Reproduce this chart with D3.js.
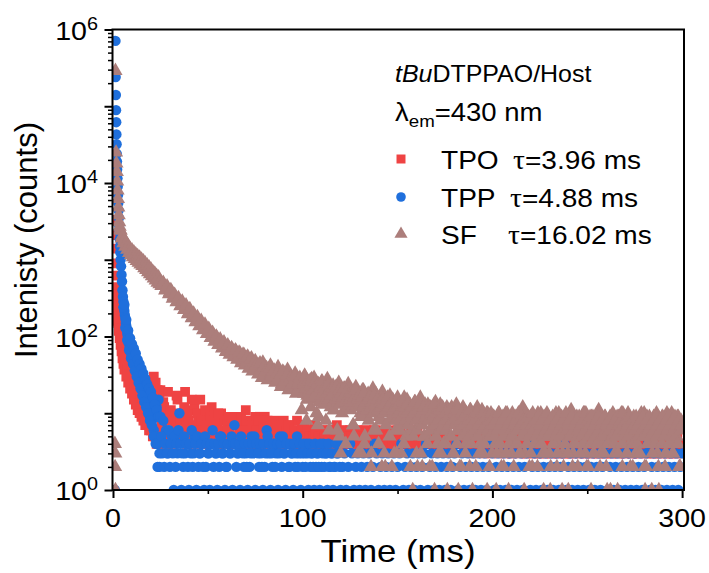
<!DOCTYPE html>
<html>
<head>
<meta charset="utf-8">
<script src="https://cdn.jsdelivr.net/npm/d3@7/dist/d3.min.js"></script>
<style>
body { margin: 0; background: #fff; }
text { font-family: "Liberation Sans", Arial, sans-serif; fill: #000; }
</style>
</head>
<body>
<svg id="chart" width="709" height="573"></svg>
<script>
// series names, lifetimes, ticks
var seriesNames = ["TPO", "TPP", "SF"];
var lifetimes = ["3.96", "4.88", "16.02"];
var xTicks = [0, 100, 200, 300];
var xMinorTicks = [50, 150, 250];
var yLabelExps = [0, 2, 4, 6];

// early part of each decay: [time (ms), counts]
var tpoEarly = [[0.25,3300],[0.5,2100],[0.75,1400],[1.0,900],[1.25,620],[1.5,440],[1.75,330],[2.0,250],[2.25,210],[2.5,160],[2.75,150],[3.0,118],[3.25,128],[3.5,95],[3.75,105],[4.0,78],[4.25,90],[4.5,64],[4.75,75],[5.0,52],[5.25,62],[5.5,44],[5.75,54],[6.0,37],[6.5,45],[7.0,30],[7.5,38],[8.0,25],[8.5,32],[9.0,21],[9.5,28],[10.0,18],[10.5,25],[11.0,15],[11.5,22],[12.0,13],[12.5,20],[13.0,11],[13.5,18],[14.0,10],[14.5,17],[15.0,9],[15.5,16],[16.0,8],[16.5,15],[17.0,7],[17.5,14],[18.0,7],[18.5,16],[19.0,6],[19.5,18],[20.0,6],[20.5,22],[21.0,5],[21.5,30],[22.0,5],[22.5,25],[23.0,4],[23.5,20],[24.0,4],[24.5,18]];

var tppEarly = [[1.0,1],[1.3,710000],[1.4,240000],[1.5,140000],[1.6,89000],[1.7,62000],[1.8,43000],[1.9,32000],[2.0,24000],[2.1,19000],[2.2,15000],[2.35,11500],[2.5,9000],[2.65,7000],[2.8,5500],[2.95,4400],[3.1,3500],[3.25,2800],[3.4,2300],[3.55,1850],[3.7,1500],[3.85,1250],[4.0,1000],[4.25,820],[4.5,640],[4.75,520],[5.0,400],[5.25,330],[5.5,285],[5.75,245],[6.0,215],[6.25,190],[6.5,170],[6.75,150],[7.0,138],[7.25,125],[7.5,112],[7.75,104],[8.0,100],[8.25,82],[8.5,94],[8.75,72],[9.0,84],[9.25,64],[9.5,76],[9.75,58],[10.0,70],[10.5,50],[11.0,62],[11.5,42],[12.0,52],[12.5,35],[13.0,45],[13.5,30],[14.0,40],[14.5,25],[15.0,34],[15.5,21],[16.0,30],[16.5,17],[17.0,26],[17.5,14],[18.0,23],[18.5,11],[19.0,20],[19.5,9],[20.0,17],[20.5,8],[21.0,15],[21.5,6],[22.0,14],[22.5,5],[23.0,12],[23.5,2],[24.0,15],[24.5,2],
  [5.5,240],[6.0,260],[6.5,130],[7.0,165],[7.5,90],[8.0,120],[8.5,66],[9.0,95],[9.5,52],[10.0,80],[10.5,44],[11.0,70],[11.5,36],[12.0,60],[12.5,30],[13.0,50],[13.5,25],[14.0,44],[14.5,21],[15.0,38],[15.5,17],[16.0,33],[16.5,14],[17.0,28],[17.5,12],[18.0,24],[18.5,10],[19.0,21],[19.5,8],[20.0,19],[20.5,7],[21.0,16],[21.5,5],[22.0,13],[22.5,4],[23.0,11],[23.5,4],[24.0,9],[24.5,3]];

var sfEarly = [[1.0,4],[1.1,2],[1.2,3],[1.3,1],[1.3,290000],[1.6,25000],[1.8,18000],[2.0,14000],[2.2,10500],[2.4,8000],[2.6,6200],[2.8,4800],[3.0,3800],[3.25,3100],[3.5,2700],[3.75,2450],[4.0,2400],[4.5,1900],[5.0,2050],[5.5,1650],[6.0,1820],[6.5,1480],[7.0,1650],[7.5,1350],[8.0,1520],[8.5,1230],[9.0,1400],[9.5,1150],[10.0,1330],[10.5,1080],[11.0,1250],[11.5,1030],[12.0,1180],[12.5,970],[13.0,1120],[13.5,920],[14.0,1070],[14.5,870],[15.0,1010],[15.5,830],[16.0,960],[16.5,780],[17.0,900],[17.5,740],[18.0,850],[18.5,690],[19.0,800],[19.5,650],[20.0,750],[20.5,610],[21.0,700],[21.5,570],[22.0,660],[22.5,540],[23.0,620],[23.5,505],[24.0,590],[24.5,480]];

// tails: counts per channel, channels start at 25 ms (1 ms apart) and the in-between channels
var tpoTail = [20,6,12,4,19,8,5,10,7,15, 5,9,6,19,4,8,11,6,13,5, 9,15,7,4,10,6,8,12,5,9,
  7,4,10,6,8,5,9,4,7,9, 5,8,6,4,7,11,5,8,4,6, 9,5,7,4,6,9,5,7,4,6,
  8,7,5,4,6,8,5,4,7,6, 4,5,8,6,4,5,7,4,6,5, 4,7,5,4,6,5,4,6,5,4,
  6,4,5,7,4,5,6,4,5,4, 6,5,4,5,6,4,5,4,6,5, 4,5,4,6,5,4,5,4,5,6,
  4,5,4,5,4,6,5,4,5,4, 5,4,6,4,5,4,5,4,5,4, 5,4,5,4,6,4,5,4,5,4,
  4,5,4,5,4,5,4,6,4,5, 4,5,4,4,5,4,5,4,4,5, 4,5,4,4,5,4,4,5,4,4,
  5,4,4,5,4,3,5,4,4,5, 4,4,5,3,4,5,4,4,3,5, 4,4,3,5,4,4,3,4,5,4,
  3,4,4,5,3,4,4,3,4,4, 5,3,4,4,3,4,4,5,3,4, 4,3,4,4,5,3,4,4,3,4,
  4,5,3,4,4,3,4,4,5,3, 4,4,3,4,4,5,3,4,4,3, 4,4,3,5,4,4,3,4,4,3,
  4,5,3,4,4,3];
var tpoTailHalf = [7,14,5,9,6,11,4,8,17,6, 8,5,12,7,9,5,15,7,4,10, 6,8,5,11,7,4,9,6,8,5,
  10,6,4,8,5,7,6,9,5,4, 7,6,9,5,4,8,6,5,7,4, 6,8,4,5,7,5,8,4,6,5,
  4,6,5,7,4,5,6,7,4,5, 6,4,5,4,7,5,4,6,5,4, 5,6,4,5,4,6,5,4,5,6,
  4,5,6,4,5,4,6,5,4,5, 5,4,5,6,4,5,4,5,6,4, 5,4,6,5,4,5,4,6,4,5,
  4,6,4,5,4,5,6,4,5,4, 5,4,5,4,5,6,4,5,4,4, 5,4,4,5,4,5,4,4,5,4,
  4,5,4,5,4,4,5,4,4,5, 4,4,5,4,3,5,4,4,5,4, 3,5,4,4,3,4,5,4,3,4,
  4,3,5,4,4,3,4,4,5,3, 4,4,3,4,5,4,3,4,4,3, 5,4,3,4,4,5,3,4,4,3,
  4,5,3,4,4,3,4,5,4,3, 4,4,5,3,4,4,3,4,5,4, 3,4,4,3,5,4,4,3,4,4,
  5,3,4,4,3,4,5,4,3,4, 4,3,4,5,4,4,3,4,4,5, 3,4,4,3,4,5,4,3,4,4,
  3,4,5,4,4];

var tppTail = [9,3,2,6,3,2,5,1,2,3, 10,1,2,3,4,1,3,2,5,1, 2,3,4,1,2,3,1,4,2,3,
  1,2,5,3,1,2,4,3,1,7, 2,3,1,4,2,3,1,2,5,3, 1,4,2,3,1,2,6,3,1,2,
  4,3,1,5,2,3,1,4,2,3, 1,2,5,3,1,2,3,4,1,2, 3,1,2,3,1,2,4,3,1,2,
  3,1,2,3,4,1,2,3,1,2, 4,3,1,2,3,1,2,3,1,2, 3,1,2,4,3,1,2,3,1,2,
  3,1,2,3,1,2,3,4,1,2, 3,1,2,3,1,2,3,1,2,3, 4,1,2,3,1,2,3,1,2,3,
  1,2,3,1,2,3,4,1,2,3, 1,2,3,1,2,3,1,2,3,1, 2,3,1,2,4,3,1,2,3,1,
  2,3,1,2,3,1,2,3,1,2, 3,1,2,3,4,1,2,3,1,2, 3,1,2,3,1,2,3,1,2,3,
  1,2,3,4,1,2,3,1,2,3, 1,2,3,1,2,3,1,2,3,1, 2,3,1,2,3,4,1,2,3,1,
  2,3,1,2,3,1,2,3,1,2, 3,1,2,3,1,2,3,4,1,2, 3,1,2,3,1,2,3,1,2,3,
  1,2,3,1,2,3];
var tppTailHalf = [5,8,4,3,6,4,3,5,4,6, 4,3,5,4,2,4,6,3,4,5, 3,4,2,5,4,3,4,6,4,3,
  4,5,3,4,2,4,3,5,4,4, 3,4,5,3,4,2,4,3,4,5, 4,3,4,2,4,3,5,4,3,4,
  2,4,3,4,5,3,4,2,4,3, 4,3,2,4,3,4,2,3,4,3, 2,4,3,2,4,3,2,3,4,2,
  3,2,4,3,2];

var sfTail = [530,478,470,425,420,378,376,335,326,292, 290,258,259,230,231,204,206,181,182,160,
  162,140,144,124,128,110,115,99,104,89, 94,80,85,73,78,66,72,61,67,57,
  64,52,60,49,58,46,55,43,52,40, 48,38,43,36,46,33,39,31,42,29,
  36,27,40,30,24,34,28,37,23,30, 26,33,21,28,25,19,31,8,18,27,
  22,29,17,7,20,26,16,22,28,6, 15,23,20,13,25,3,14,21,17,24,
  12,19,5,22,13,18,3,20,15,9, 17,2,21,10,16,4,8,19,3,15,
  10,17,2,13,6,16,9,3,14,12, 15,8,11,1,14,3,7,16,2,5,
  9,13,2,11,6,14,4,10,3,8, 7,12,5,2,10,8,13,1,9,6,
  11,4,8,2,10,5,7,12,3,9, 3,9,10,7,5,8,6,1,9,4,
  7,2,10,6,8,3,5,9,4,7, 6,12,3,8,5,9,2,7,4,10,
  5,8,1,6,9,3,7,4,8,2, 10,6,3,8,5,1,7,9,4,6,
  2,8,5,10,3,7,6,1,9,4, 7,11,3,6,8,2,5,9,4,7,
  6,1,8,10,4,7,3,9,5,2, 8,6,3,9,5,10,2,7,4,1,
  9,6,3,8,5,7,2,10,4,6, 3,8,5,9,2,7];
var sfTailHalf = [455,500,400,452,356,405,312,350,280,318, 248,285,222,255,196,228,174,200,154,180,
  136,160,121,143,108,126,96,112,86,100, 78,92,70,84,63,77,58,71,54,66,
  50,62,45,58,42,53,38,50,35,46, 42,32,45,29,40,35,27,38,30,35,
  25,33,29,22,35,26,31,20,28,24, 30,18,24,29,11,22,26,17,23,20,
  25,15,21,9,24,18,13,20,23,16, 19,11,22,16,5,20,14,18,12,21,
  16,7,19,13,17,10,20,4,14,18, 11,15,6,18,13,9,16,12,2,14,
  13,8,15,11,3,14,7,12,16,5, 10,13,6,12,9,2,14,11,8,13,
  5,10,12,7,1,11,9,13,6,10, 4,11,8,12,3,9,6,10,2,12,
  7,9,5,11,1,8,10,6,4,11, 8,5,10,2,7,9,4,6,10,3,
  9,5,8,1,6,10,4,7,9,3, 8,5,10,6,2,9,7,4,8,6,
  10,3,7,9,5,1,8,6,10,4, 7,9,2,6,8,5,11,3,7,9,
  5,8,4,10,6,2,9,7,3,8, 6,10,4,7,9,1,5,8,10,3,
  7,9,5,2,8,6,10,4,7,9, 3,8,6,10,5,1,9,7,4,8,
  6,10,2,7,9,5,3,8,6,10, 4,7,9,2,8];
// SF quarter channels from 100.25 ms, 0.5 ms apart
var sfTailQuarter = [24,18,30,21,15,26,19,23,12,28, 20,16,25,22,10,19,24,14,21,17,
  26,13,19,22,8,18,23,15,20,12, 17,21,11,19,15,22,6,16,20,13,
  18,10,16,21,14,4,19,12,17,15, 11,18,14,7,16,20,12,15,3,17,
  13,9,16,12,18,5,14,11,15,8, 16,12,3,14,10,17,13,6,15,11,
  9,14,12,2,15,10,13,7,11,16, 12,5,13,9,14,11,3,12,8,15,
  10,13,6,11,9,14,4,12,8,10, 13,7,11,2,9,12,5,10,14,8,
  6,11,9,13,3,10,7,12,5,9, 11,4,8,12,6,10,2,9,13,7,
  5,10,8,3,11,6,9,12,4,8, 10,6,1,9,7,11,5,8,3,10,
  7,9,4,11,6,2,8,10,5,7, 9,3,10,6,8,5,11,4,7,9,
  6,8,2,10,5,7,9,3,8,6, 10,4,7,9,1,6,8,5,10,3,
  7,9,5,8,3,6,10,4,7,2, 8,5,9,6,3,10,7,4,8,6,
  5,9,2,7,8,4,6,10,3,7, 9,5,8,1,6,7,4,9,5,8,
  3,7,10,6,4,8,5,2,9,6, 7,4,8,5,9,3,6,10,5,7,
  8,2,6,9,4,7,5,8,3,6, 9,5,7,1,8,6,4,10,6,3,
  7,8,5,9,2,6,7,4,8,5, 6,9,3,7,5,8,4,6,10,2,
  8,5,7,4,9,6,3,7,5,8, 4,9,6,2,7,8,5,3,9,6,
  7,4,8,6,1,9,5,7,4,8, 5,9,3,7,6,8,4,10,5,6,
  8,3,7,5,9,2,6,8,4,7, 6,9,4,7,5,3,8,6,9,5,
  2,7,8,4,6,9,5,7,3,8, 6,4,9,5,7,1,8,6,4,9,
  7,5,3,8,6,9,4,7,5,8, 3,6,9,5,7,4,8,2,6,7];

// [first time, spacing, counts]
var tpoBlocks = [[25, 1, tpoTail], [25.5, 1, tpoTailHalf]];
var tppBlocks = [[25, 1, tppTail], [25.5, 1, tppTailHalf]];
var sfBlocks = [[25, 1, sfTail], [25.5, 1, sfTailHalf], [100.25, 0.5, sfTailQuarter]];

function buildSeries(early, blocks) {
    var pts = early.slice();
    blocks.forEach(function(b) {
        for (var i = 0; i < b[2].length; i++) {
            pts.push([b[0] + i * b[1], b[2][i]]);
        }
    });
    return pts;
}

var series = [
    {name: seriesNames[0], tau: lifetimes[0], color: "#EF4343", shape: d3.symbolSquare, size: 95, data: buildSeries(tpoEarly, tpoBlocks)},
    {name: seriesNames[1], tau: lifetimes[1], color: "#1F6FDC", shape: d3.symbolCircle, size: 85, data: buildSeries(tppEarly, tppBlocks)},
    {name: seriesNames[2], tau: lifetimes[2], color: "#AC7E7B", shape: d3.symbolTriangle, size: 88, data: buildSeries(sfEarly, sfBlocks)}
];

var svg = d3.select("#chart");
var plot = {l: 112.5, r: 684, t: 29.5, b: 490};

var x = d3.scaleLinear().domain([0, 301]).range([113, 684]);
var y = d3.scaleLog().domain([1, 1e6]).range([plot.b, plot.t]);

svg.append("clipPath").attr("id", "clip")
    .append("rect")
    .attr("x", plot.l).attr("y", plot.t)
    .attr("width", plot.r - plot.l).attr("height", plot.b - plot.t);

var dataG = svg.append("g").attr("clip-path", "url(#clip)");

series.forEach(function(s) {
    var sym = d3.symbol().type(s.shape).size(s.size);
    dataG.append("g")
        .selectAll("path")
        .data(s.data)
        .enter()
        .append("path")
        .attr("d", sym)
        .attr("fill", s.color)
        .attr("transform", function(d) {
            return "translate(" + x(d[0]) + "," + y(d[1]) + ")";
        });
});

// frame
svg.append("rect")
    .attr("x", plot.l).attr("y", plot.t)
    .attr("width", plot.r - plot.l).attr("height", plot.b - plot.t)
    .attr("fill", "none").attr("stroke", "#000").attr("stroke-width", 2);

// x axis ticks
var xAxisG = svg.append("g").attr("transform", "translate(0," + plot.b + ")")
    .call(d3.axisBottom(x).tickValues(xTicks).tickSize(8).tickFormat(""));
var xMinorG = svg.append("g").attr("transform", "translate(0," + plot.b + ")")
    .call(d3.axisBottom(x).tickValues(xMinorTicks).tickSize(4).tickFormat(""));
xAxisG.select(".domain").remove();
xMinorG.select(".domain").remove();
xAxisG.selectAll("line").attr("stroke-width", 2);
xMinorG.selectAll("line").attr("stroke-width", 1.6);

// y axis ticks
var decades = d3.range(0, 7).map(function(e) { return Math.pow(10, e); });
var minors = [];
for (var e = 0; e < 6; e++) {
    for (var m = 2; m <= 9; m++) minors.push(m * Math.pow(10, e));
}
var yAxisG = svg.append("g").attr("transform", "translate(" + plot.l + ",0)")
    .call(d3.axisLeft(y).tickValues(decades).tickSize(8).tickFormat(""));
var yMinorG = svg.append("g").attr("transform", "translate(" + plot.l + ",0)")
    .call(d3.axisLeft(y).tickValues(minors).tickSize(4.5).tickFormat(""));
yAxisG.select(".domain").remove();
yMinorG.select(".domain").remove();
yAxisG.selectAll("line").attr("stroke-width", 2);
yMinorG.selectAll("line").attr("stroke-width", 1.5);

var sx = 1.1;   // the picture's text is a bit wider than Arial

// x tick labels
xTicks.forEach(function(v) {
    svg.append("text")
        .attr("transform", "translate(" + x(v) + ",527) scale(" + sx + ",1)")
        .attr("text-anchor", "middle")
        .style("font-size", "26px")
        .text(v);
});

// y tick labels 10^n
yLabelExps.forEach(function(n) {
    var t = svg.append("text")
        .attr("transform", "translate(98," + (y(Math.pow(10, n)) + 10) + ") scale(" + sx + ",1)")
        .attr("text-anchor", "end")
        .style("font-size", "26px");
    t.append("tspan").text("10");
    t.append("tspan").attr("dy", -10).style("font-size", "18px").text(n);
});

// axis titles
svg.append("text")
    .attr("transform", "translate(398,562) scale(1.12,1)")
    .attr("text-anchor", "middle")
    .style("font-size", "31px")
    .text("Time (ms)");

svg.append("text")
    .attr("transform", "translate(37,240) rotate(-90)")
    .attr("text-anchor", "middle")
    .style("font-size", "31px")
    .text("Intenisty (counts)");

// legend
var title = svg.append("text")
    .attr("transform", "translate(395,82) scale(1.04,1)")
    .style("font-size", "24px");
title.append("tspan").style("font-style", "italic").text("tBu");
title.append("tspan").text("DTPPAO/Host");

var lam = svg.append("text")
    .attr("transform", "translate(395,121) scale(" + sx + ",1)")
    .style("font-size", "25px");
lam.append("tspan").text("\u03bb");
lam.append("tspan").attr("dy", 6).style("font-size", "17px").text("em");
lam.append("tspan").attr("dy", -6).text("=430 nm");

var rowY = [159, 197, 234];
var tauX = [513, 510, 508];
series.forEach(function(s, i) {
    svg.append("path")
        .attr("d", d3.symbol().type(s.shape).size(s.size * 0.85)())
        .attr("fill", s.color)
        .attr("transform", "translate(401," + rowY[i] + ")");
    svg.append("text")
        .attr("transform", "translate(441," + (rowY[i] + 9.5) + ") scale(" + sx + ",1)")
        .style("font-size", "25.5px")
        .text(s.name);
    var tt = svg.append("text")
        .attr("transform", "translate(" + tauX[i] + "," + (rowY[i] + 9.5) + ") scale(" + sx + ",1)")
        .style("font-size", "25.5px");
    tt.append("tspan").style("font-family", "'Liberation Serif', 'Times New Roman', serif").style("font-size", "27px").text("\u03c4");
    tt.append("tspan").text("=" + s.tau + " ms");
});
</script>
</body>
</html>
